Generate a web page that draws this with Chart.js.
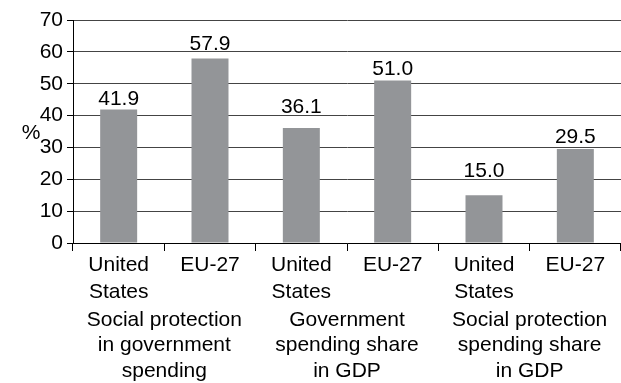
<!DOCTYPE html>
<html>
<head>
<meta charset="utf-8">
<script src="https://cdn.jsdelivr.net/npm/chart.js@4/dist/chart.umd.min.js"></script>
<style>
  html, body { margin: 0; padding: 0; background: #fff; }
  #wrap { width: 621px; height: 383px; }
</style>
</head>
<body>
<div id="wrap"><canvas id="chart" width="621" height="383"></canvas></div>
<script>
const categories = [
  ['United', 'States'], 'EU-27',
  ['United', 'States'], 'EU-27',
  ['United', 'States'], 'EU-27'
];
const groups = [
  ['Social protection', 'in government', 'spending'],
  ['Government', 'spending share', 'in GDP'],
  ['Social protection', 'spending share', 'in GDP']
];
const values = [41.9, 57.9, 36.1, 51.0, 15.0, 29.5];
const yTicks = [0, 10, 20, 30, 40, 50, 60, 70];

const FONT = "'Liberation Sans', Arial, Helvetica, sans-serif";
// gap in px between each bar top and its value label
const labelGap = [5, 9, 15, 6, 18, 6];

// value labels above each bar
const barValues = {
  id: 'barValues',
  afterDatasetsDraw(chart) {
    const ctx = chart.ctx;
    const meta = chart.getDatasetMeta(0);
    ctx.save();
    ctx.font = '21px ' + FONT;
    ctx.fillStyle = '#000';
    ctx.textAlign = 'center';
    ctx.textBaseline = 'alphabetic';
    meta.data.forEach((bar, i) => {
      ctx.fillText(values[i].toFixed(1), bar.x, bar.y - labelGap[i]);
    });
    ctx.restore();
  }
};

// horizontal "%" unit label left of the y axis
const unitLabel = {
  id: 'unitLabel',
  afterDraw(chart) {
    const ctx = chart.ctx;
    const y = chart.scales.y;
    ctx.save();
    ctx.font = '21px ' + FONT;
    ctx.fillStyle = '#000';
    ctx.textAlign = 'center';
    ctx.textBaseline = 'middle';
    ctx.fillText('%', 31, y.getPixelForValue(34.5));
    ctx.restore();
  }
};

new Chart(document.getElementById('chart'), {
  type: 'bar',
  data: {
    labels: categories,
    datasets: [{
      data: values,
      backgroundColor: '#939598',
      categoryPercentage: 1,
      barPercentage: 0.405
    }]
  },
  options: {
    responsive: false,
    animation: false,
    layout: { padding: { top: 20, left: 0, right: 0, bottom: 0 } },
    plugins: { legend: { display: false }, tooltip: { enabled: false } },
    scales: {
      y: {
        min: 0,
        max: 70,
        afterBuildTicks: s => { s.ticks = yTicks.map(v => ({ value: v })); },
        afterFit: s => { s.width = 73; },
        grid: { color: '#444', lineWidth: 1, tickLength: 6, tickColor: '#000' },
        border: { color: '#000', width: 1 },
        ticks: { color: '#000', font: { family: FONT, size: 21 }, padding: 4 }
      },
      x: {
        weight: 0,
        afterFit: s => { s.height = 60; },
        grid: { offset: true, drawOnChartArea: false, tickLength: 8, tickColor: '#000' },
        border: { color: '#000', width: 1 },
        ticks: { color: '#000', font: { family: FONT, size: 21, lineHeight: 1.286 }, padding: 1, maxRotation: 0, autoSkip: false }
      },
      x2: {
        type: 'category',
        position: 'bottom',
        weight: 1,
        labels: groups,
        offset: true,
        afterFit: s => { s.height = 80; },
        grid: { display: false },
        border: { display: false },
        ticks: { color: '#000', font: { family: FONT, size: 21, lineHeight: 1.214 }, padding: -4, maxRotation: 0, autoSkip: false }
      }
    }
  },
  plugins: [barValues, unitLabel]
});
</script>
</body>
</html>
